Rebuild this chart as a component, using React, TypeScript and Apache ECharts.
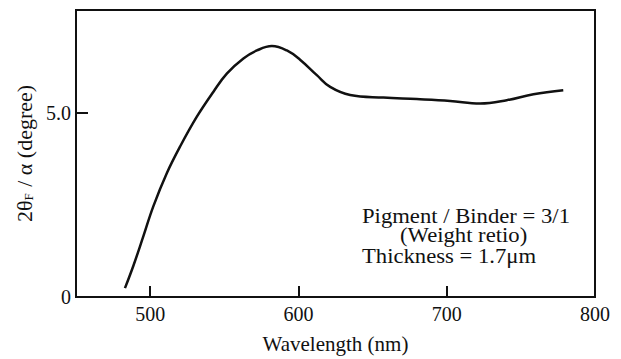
import React, { useEffect, useRef } from "react";
import * as echarts from "echarts";

const wavelengths = [483, 488.7, 495.5, 502.2, 511.3, 520.2, 531.5, 542.7, 551.7, 562.9, 572, 582.1, 592.2, 601.1, 612.4, 621.4, 634.9, 657.3, 679.8, 702.3, 722.5, 740.5, 758.5, 778.6];
const values = [0.24, 0.85, 1.66, 2.47, 3.37, 4.09, 4.9, 5.58, 6.07, 6.48, 6.7, 6.82, 6.7, 6.45, 6.03, 5.71, 5.49, 5.42, 5.38, 5.33, 5.26, 5.35, 5.51, 5.62];
const xTicks = [500, 600, 700, 800];
const yTicks = [0, 5];
const yTickLabels = ["0", "5.0"];
const noteLines = ["Pigment / Binder = 3/1", "(Weight retio)", "Thickness = 1.7\u03bcm"];

const FONT = "'Liberation Serif', 'DejaVu Serif', serif";
const INK = "#111";

export default function App() {
  const ref = useRef<HTMLDivElement>(null);
  useEffect(() => {
    if (!ref.current) return;
    const chart = echarts.init(ref.current, undefined, { renderer: "svg" });
    chart.setOption({
      animation: false,
      backgroundColor: "#fff",
      grid: {
        left: 76,
        right: 26,
        top: 10,
        bottom: 61,
        show: true,
        borderColor: INK,
        borderWidth: 2,
        backgroundColor: "transparent",
      },
      xAxis: {
        type: "value",
        min: 450,
        max: 800,
        name: "Wavelength (nm)",
        nameLocation: "middle",
        nameGap: 36,
        nameTextStyle: { fontFamily: FONT, fontSize: 21, color: INK },
        axisLine: { show: true, lineStyle: { color: INK, width: 2 } },
        axisTick: {
          show: true,
          inside: true,
          length: 11,
          lineStyle: { color: INK, width: 2 },
          customValues: xTicks,
        },
        axisLabel: {
          fontFamily: FONT,
          fontSize: 20,
          color: INK,
          margin: 7,
          customValues: xTicks,
        },
        splitLine: { show: false },
      },
      yAxis: {
        type: "value",
        min: 0,
        max: 7.8,
        name: "{a|2\u03b8}{s|F}{a| / \u03b1 (degree)}",
        nameLocation: "middle",
        nameRotate: 90,
        nameGap: 39,
        nameTextStyle: {
          fontFamily: FONT,
          fontSize: 22,
          color: INK,
          rich: {
            a: { fontFamily: FONT, fontSize: 22, color: INK },
            s: { fontFamily: FONT, fontSize: 13, color: INK, padding: [8, 1, 0, 0] },
          },
        },
        axisLine: { show: true, lineStyle: { color: INK, width: 2 } },
        axisTick: {
          show: true,
          inside: true,
          length: 12,
          lineStyle: { color: INK, width: 2 },
          customValues: yTicks,
        },
        axisLabel: {
          fontFamily: FONT,
          fontSize: 20,
          color: INK,
          margin: 5,
          customValues: yTicks,
          formatter: (v: number) => {
            const i = yTicks.indexOf(v);
            return i >= 0 ? yTickLabels[i] : "";
          },
        },
        splitLine: { show: false },
      },
      graphic: [
        {
          type: "text",
          x: 362,
          y: 216,
          scaleX: 1.08,
          style: { text: noteLines[0], font: `21px ${FONT}`, fill: INK, verticalAlign: "middle" },
        },
        {
          type: "text",
          x: 400,
          y: 235,
          scaleX: 1.08,
          style: { text: noteLines[1], font: `21px ${FONT}`, fill: INK, verticalAlign: "middle" },
        },
        {
          type: "text",
          x: 362,
          y: 256,
          scaleX: 1.08,
          style: { text: noteLines[2], font: `21px ${FONT}`, fill: INK, verticalAlign: "middle" },
        },
      ],
      series: [
        {
          type: "line",
          data: wavelengths.map((w, i) => [w, values[i]]),
          smooth: 0.4,
          showSymbol: false,
          lineStyle: { color: INK, width: 2.5 },
        },
      ],
    });
    return () => chart.dispose();
  }, []);
  return (
    <div
      ref={ref}
      style={{ position: "absolute", left: 0, top: 0, width: 621, height: 359 }}
    />
  );
}
